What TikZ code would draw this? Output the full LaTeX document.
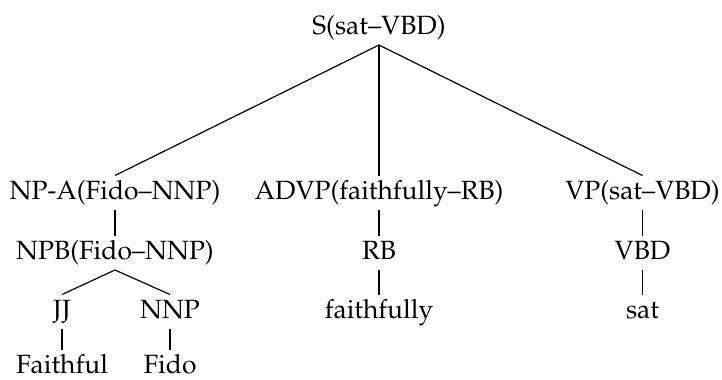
\documentclass[tikz,border=0pt]{standalone}
\usepackage[T1]{fontenc}
\usepackage{mathpazo}
\begin{document}
\begin{tikzpicture}[x=1bp,y=-1bp,
  lbl/.style={inner sep=0pt, anchor=base, text height=18.5bp, text depth=6bp,
    outer ysep=5bp, font=\fontsize{26.4bp}{30bp}\selectfont},
  leaf/.style={lbl, text depth=0bp},
  edge/.style={line width=1.2bp, black}]
\useasboundingbox (0,0) rectangle (722,379);
% nodes
\node[lbl] (S)    at (379,34)  {S(sat--VBD)};
\node[lbl] (NPA)  at (115,199) {NP-A(Fido--NNP)};
\node[lbl] (ADVP) at (379,199) {ADVP(faithfully--RB)};
\node[lbl] (VP)   at (642.5,199) {VP(sat--VBD)};
\node[lbl] (NPB)  at (115,259) {NPB(Fido--NNP)};
\node[lbl] (RB)   at (379,259) {RB};
\node[lbl] (VBD)  at (642.5,259) {VBD};
\node[lbl] (JJ)   at (62,318)  {JJ};
\node[lbl] (NNP)  at (170,318) {NNP};
\node[lbl] (fly)  at (379,318) {faithfully};
\node[lbl] (sat)  at (642.5,318) {sat};
\node[leaf] (Fai)  at (62,373) {Faithful};
\node[leaf] (Fido) at (170,373) {Fido};
% connectors
\draw[edge] (S.south) -- (NPA.north);
\draw[edge] (S.south) -- (ADVP.north);
\draw[edge] (S.south) -- (VP.north);
\draw[edge] (NPA.south) -- (NPB.north);
\draw[edge] (NPB.south) -- (JJ.north);
\draw[edge] (NPB.south) -- (NNP.north);
\draw[edge] (JJ.south) -- (Fai.north);
\draw[edge] (NNP.south) -- (Fido.north);
\draw[edge] (ADVP.south) -- (RB.north);
\draw[edge] (RB.south) -- (fly.north);
\draw[edge] (VP.south) -- (VBD.north);
\draw[edge] (VBD.south) -- (sat.north);
\end{tikzpicture}
\end{document}
